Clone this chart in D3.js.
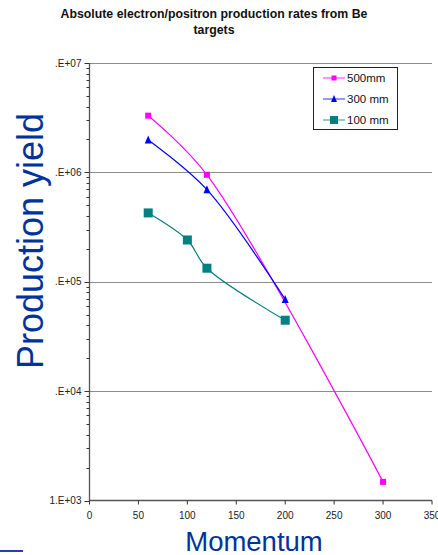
<!DOCTYPE html>
<html><head><meta charset="utf-8">
<script src="https://cdn.jsdelivr.net/npm/d3@7/dist/d3.min.js"></script>
<style>body{margin:0;background:#fff}svg{display:block;font-family:Arial,"Liberation Sans",sans-serif}</style>
</head><body>
<svg id="c" width="438" height="555"></svg>
<script>
const titleLines = ["Absolute electron/positron production rates from Be", "targets"];
const xLabel = "Momentum";
const yLabel = "Production yield";
const xTicks = [0, 50, 100, 150, 200, 250, 300, 350];
const yTicks = [1e3, 1e4, 1e5, 1e6, 1e7];
const yTickLabels = ["1.E+03", ".E+04", ".E+05", ".E+06", ".E+07"];
const seriesNames = ["500mm", "300 mm", "100 mm"];
const x500 = [60, 120, 300];
const y500 = [3.3e6, 9.5e5, 1.48e3];
const x300 = [60, 120, 200];
const y300 = [1.98e6, 6.95e5, 6.9e4];
const x100 = [60, 100, 120, 200];
const y100 = [4.26e5, 2.41e5, 1.33e5, 4.45e4];
const colors = ["#ff00ff", "#0000ff", "#008080"];

const svg = d3.select("#c");
const x = d3.scaleLinear().domain([0, 350]).range([89.5, 432]);
const y = d3.scaleLog().domain([1e3, 1e7]).range([500.5, 63]);

// title
svg.append("text").attr("x", 214).attr("font-weight", "bold").attr("font-size", 12.3).attr("text-anchor", "middle")
  .attr("fill", "#111")
  .selectAll("tspan").data(titleLines).join("tspan")
  .attr("x", 214).attr("y", (d, i) => 17.5 + i * 16).text(d => d);

// grid
svg.append("g").selectAll("line").data(yTicks.slice(1)).join("line")
  .attr("x1", 89.5).attr("x2", 432).attr("y1", d => Math.round(y(d)) + 0.5).attr("y2", d => Math.round(y(d)) + 0.5)
  .attr("stroke", "#8c8c8c").attr("stroke-width", 1);

// y axis
const minor = [];
for (let e = 3; e < 7; e++) for (let m = 2; m <= 9; m++) minor.push(m * Math.pow(10, e));
const ya = svg.append("g").attr("transform", "translate(89.5,0)");
ya.append("line").attr("y1", 63).attr("y2", 501).attr("stroke", "#555").attr("stroke-width", 1.3);
ya.selectAll(".mj").data(yTicks).join("line").attr("x1", -5).attr("x2", 0)
  .attr("y1", d => Math.round(y(d)) + 0.5).attr("y2", d => Math.round(y(d)) + 0.5).attr("stroke", "#333");
ya.selectAll(".mn").data(minor).join("line").attr("x1", -3).attr("x2", 0)
  .attr("y1", d => Math.round(y(d)) + 0.5).attr("y2", d => Math.round(y(d)) + 0.5).attr("stroke", "#333");
ya.selectAll("text").data(yTicks).join("text").attr("x", -8).attr("y", d => y(d) + 3.5)
  .attr("text-anchor", "end").attr("font-size", 10).attr("fill", "#222").text((d, i) => yTickLabels[i]);

// x axis
const xa = svg.append("g").attr("transform", "translate(0,500.5)");
xa.append("line").attr("x1", 89.5).attr("x2", 432).attr("stroke", "#555").attr("stroke-width", 1.3);
xa.selectAll("line.t").data(xTicks).join("line").attr("class", "t").attr("x1", d => x(d)).attr("x2", d => x(d))
  .attr("y1", 0).attr("y2", 4).attr("stroke", "#333");
xa.selectAll("text").data(xTicks).join("text").attr("x", d => x(d)).attr("y", 18.5)
  .attr("text-anchor", "middle").attr("font-size", 10).attr("fill", "#222").text(d => d);

// axis titles
svg.append("text").attr("x", 254).attr("y", 551).attr("text-anchor", "middle").attr("font-size", 27.5)
  .attr("fill", "#003399").text(xLabel);
svg.append("text").attr("transform", "translate(43,241) rotate(-90)").attr("text-anchor", "middle")
  .attr("font-size", 36).attr("fill", "#003399").text(yLabel);
svg.append("line").attr("x1", 0).attr("x2", 23).attr("y1", 551).attr("y2", 551).attr("stroke", "#2244aa").attr("stroke-width", 2);

// series
const series = [
  {xs: x500, ys: y500, c: colors[0], m: "sq", s: 6},
  {xs: x300, ys: y300, c: colors[1], m: "tri", s: 7},
  {xs: x100, ys: y100, c: colors[2], m: "sq", s: 9}
];
const line = d3.line().x(d => x(d[0])).y(d => y(d[1])).curve(d3.curveCatmullRom.alpha(0.5));
function marker(g, type, s, c) {
  if (type === "sq") g.append("rect").attr("x", -s / 2).attr("y", -s / 2).attr("width", s).attr("height", s).attr("fill", c);
  else g.append("path").attr("d", `M0,${-s / 2 - 1}L${s / 2},${s / 2}L${-s / 2},${s / 2}Z`).attr("fill", c);
}
series.forEach(sr => {
  const pts = sr.xs.map((v, i) => [v, sr.ys[i]]);
  svg.append("path").attr("d", line(pts)).attr("fill", "none").attr("stroke", sr.c).attr("stroke-width", 1.2);
  pts.forEach(p => {
    const g = svg.append("g").attr("transform", `translate(${x(p[0])},${y(p[1])})`);
    marker(g, sr.m, sr.s, sr.c);
  });
});

// legend
const lg = svg.append("g");
lg.append("rect").attr("x", 313.5).attr("y", 67.5).attr("width", 84).attr("height", 62).attr("fill", "#fff").attr("stroke", "#222");
series.forEach((sr, i) => {
  const yy = 78 + i * 21;
  lg.append("line").attr("x1", 323).attr("x2", 345).attr("y1", yy).attr("y2", yy).attr("stroke", sr.c).attr("stroke-opacity", 0.55).attr("stroke-width", 1.5);
  const g = lg.append("g").attr("transform", `translate(334,${yy})`);
  marker(g, sr.m, sr.m === "tri" ? 6 : (i === 2 ? 8 : 5), sr.c);
  lg.append("text").attr("x", 347).attr("y", yy + 4).attr("font-size", 11.5).attr("fill", "#111").text(seriesNames[i]);
});
</script>
</body></html>
